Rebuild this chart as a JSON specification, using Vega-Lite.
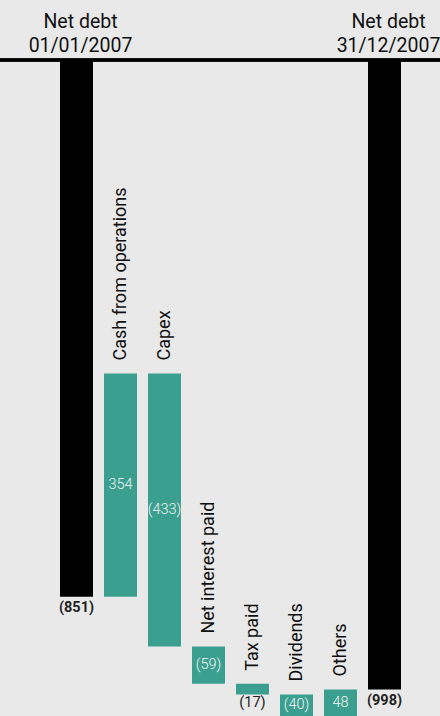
{
  "$schema": "https://vega.github.io/schema/vega-lite/v6.json",
  "width": 440,
  "height": 656,
  "autosize": {"type": "none"},
  "padding": {"top": 60, "left": 0, "right": 0, "bottom": 0},
  "background": "#e9e9e9",
  "config": {"view": {"stroke": null}, "font": "Roboto"},
  "data": {
    "values": [
      {"step": "Net debt 01/01/2007", "title": "Net debt\n01/01/2007", "kind": "total", "start": 0, "end": 851, "value": -851, "label": "(851)"},
      {"step": "Cash from operations", "title": "Cash from operations", "kind": "flow", "start": 851, "end": 497, "value": 354, "label": "354"},
      {"step": "Capex", "title": "Capex", "kind": "flow", "start": 497, "end": 930, "value": -433, "label": "(433)"},
      {"step": "Net interest paid", "title": "Net interest paid", "kind": "flow", "start": 930, "end": 989, "value": -59, "label": "(59)"},
      {"step": "Tax paid", "title": "Tax paid", "kind": "flow", "start": 989, "end": 1006, "value": -17, "label": "(17)"},
      {"step": "Dividends", "title": "Dividends", "kind": "flow", "start": 1006, "end": 1046, "value": -40, "label": "(40)"},
      {"step": "Others", "title": "Others", "kind": "flow", "start": 1046, "end": 998, "value": 48, "label": "48"},
      {"step": "Net debt 31/12/2007", "title": "Net debt\n31/12/2007", "kind": "total", "start": 0, "end": 998, "value": -998, "label": "(998)"}
    ]
  },
  "transform": [
    {"calculate": "(min(datum.start,1040)+min(datum.end,1040))/2", "as": "mid"},
    {"calculate": "max(datum.start,datum.end)", "as": "bottom"},
    {"calculate": "min(datum.start,datum.end)", "as": "top"}
  ],
  "encoding": {
    "x": {
      "field": "step", "type": "nominal", "sort": null,
      "scale": {"range": [60, 401], "paddingInner": 0.25, "paddingOuter": 0},
      "axis": null
    }
  },
  "layer": [
    {
      "mark": {"type": "bar", "clip": true},
      "encoding": {
        "y": {"field": "start", "type": "quantitative", "scale": {"domain": [0, 1040], "reverse": true, "nice": false, "zero": false}, "axis": null},
        "y2": {"field": "end"},
        "color": {"field": "kind", "type": "nominal", "scale": {"domain": ["total", "flow"], "range": ["#000000", "#3a9f8f"]}, "legend": null}
      }
    },
    {
      "mark": {"type": "rule", "color": "#000000", "strokeWidth": 2.5},
      "encoding": {"y": {"datum": 0, "type": "quantitative"}, "x": {"value": 0}, "x2": {"value": 440}}
    },
    {
      "transform": [{"filter": "datum.kind=='flow' && abs(datum.value)>=20"}],
      "mark": {"type": "text", "fontSize": 14.5, "fontWeight": 300, "color": "#f4f4f4", "baseline": "middle", "align": "center"},
      "encoding": {
        "y": {"field": "mid", "type": "quantitative"},
        "text": {"field": "label"}
      }
    },
    {
      "transform": [{"filter": "datum.kind=='flow' && abs(datum.value)<20"}],
      "mark": {"type": "text", "fontSize": 14.5, "color": "#222222", "baseline": "middle", "align": "center", "dy": 8},
      "encoding": {
        "y": {"field": "bottom", "type": "quantitative"},
        "text": {"field": "label"}
      }
    },
    {
      "transform": [{"filter": "datum.kind=='total'"}],
      "mark": {"type": "text", "fontSize": 14.5, "fontWeight": "bold", "color": "#222222", "baseline": "middle", "align": "center", "dy": 11},
      "encoding": {
        "y": {"field": "bottom", "type": "quantitative"},
        "text": {"field": "label"}
      }
    },
    {
      "transform": [{"filter": "datum.kind=='flow'"}],
      "mark": {"type": "text", "fontSize": 18, "color": "#111111", "angle": 270, "align": "left", "baseline": "middle", "dx": 13},
      "encoding": {
        "y": {"field": "top", "type": "quantitative"},
        "text": {"field": "title"}
      }
    },
    {
      "transform": [{"filter": "datum.kind=='total'"}],
      "mark": {"type": "text", "fontSize": 19.5, "color": "#111111", "align": "center", "baseline": "alphabetic", "lineBreak": "\n", "lineHeight": 24.4, "dy": -32.5, "dx": 4},
      "encoding": {
        "y": {"datum": 0, "type": "quantitative"},
        "text": {"field": "title"}
      }
    }
  ]
}
